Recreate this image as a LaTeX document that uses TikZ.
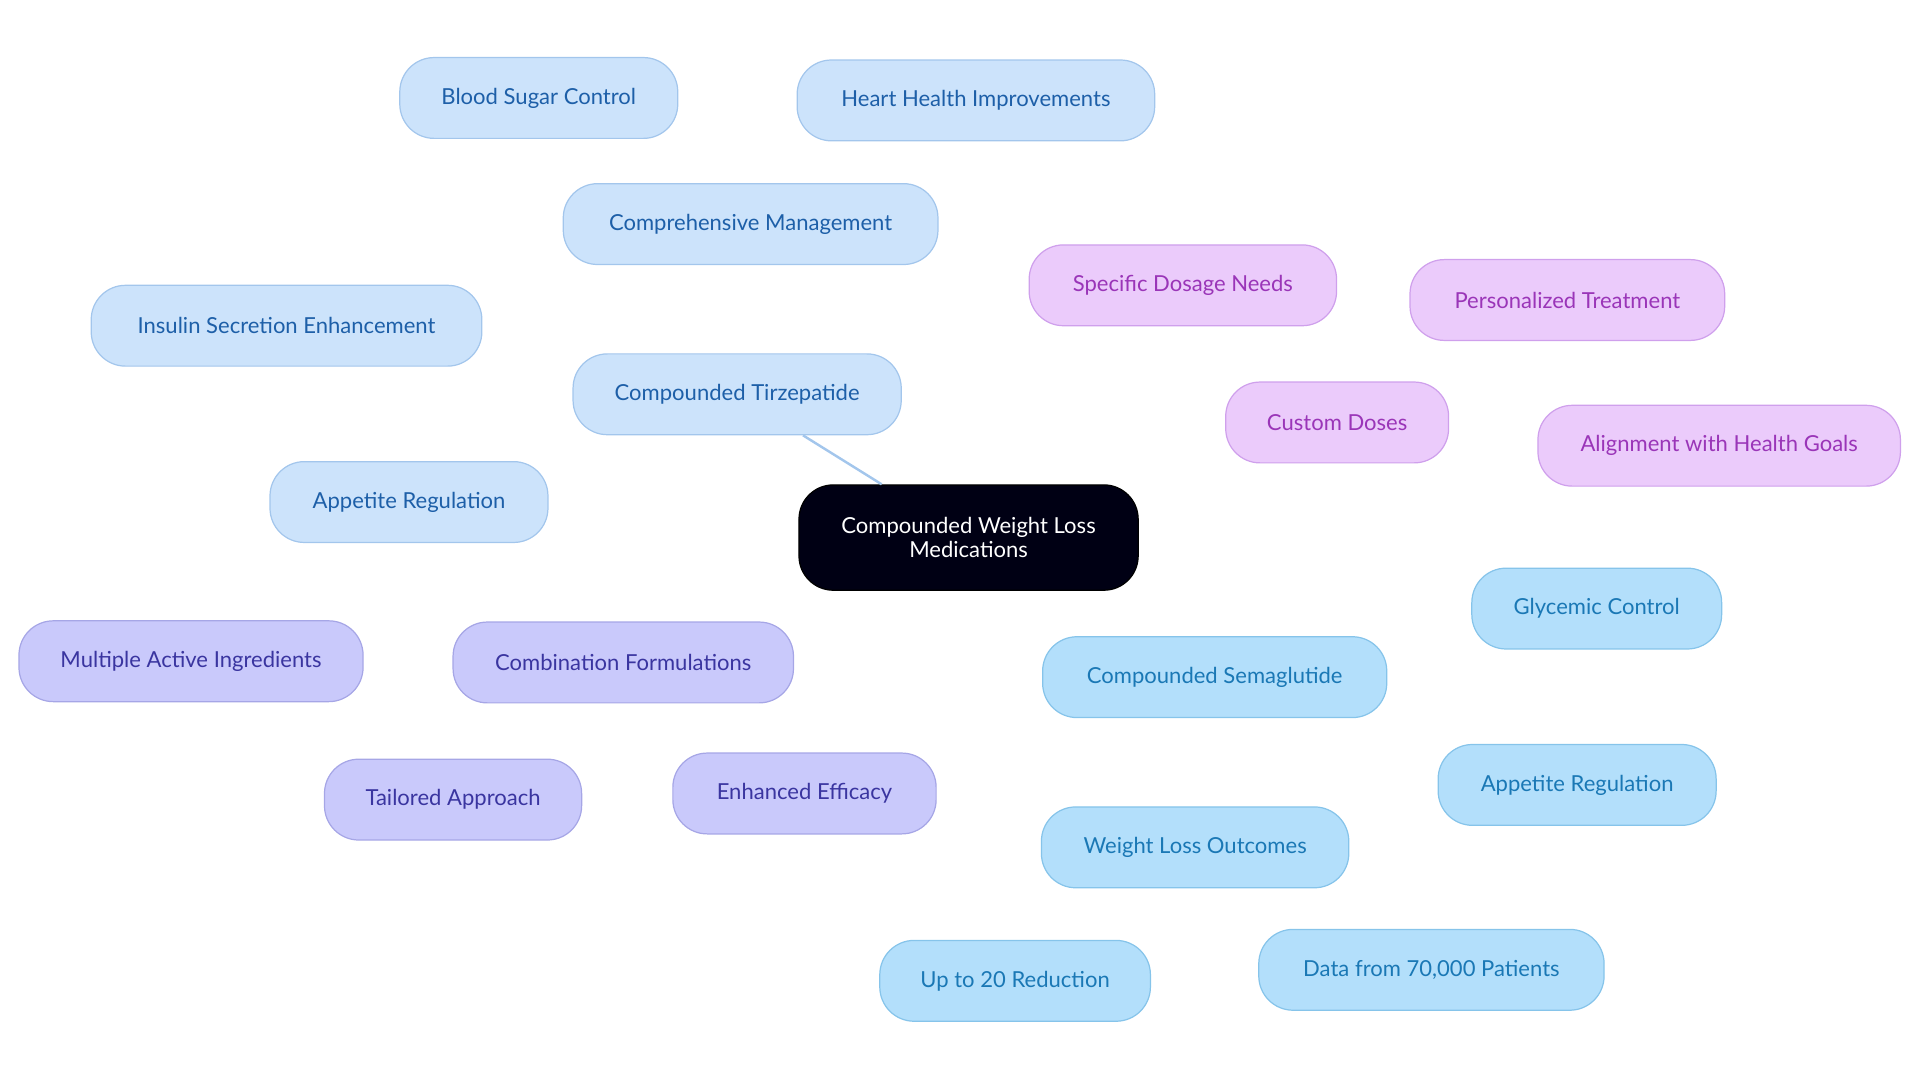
\documentclass[tikz,border=0pt]{standalone}
\usepackage{fontspec}
\setmainfont{Lato}
\begin{document}
\begin{tikzpicture}[x=1pt,y=-1pt,
 base/.style={draw,rounded corners=28pt,minimum height=66pt,line width=1pt,font=\fontsize{18}{21}\selectfont,inner sep=0pt},
 bl/.style={base,fill=cB,draw=cBd,text=cBt},
 pu/.style={base,fill=cP,draw=cPd,text=cPt},
 lv/.style={base,fill=cL,draw=cLd,text=cLt},
 sk/.style={base,fill=cS,draw=cSd,text=cSt},
 eb/.style={draw=cBd,line width=2pt},
 ep/.style={draw=cPd,line width=2pt},
 el/.style={draw=cLd,line width=2pt},
 es/.style={draw=cSd,line width=2pt}]
\definecolor{cB}{HTML}{CCE3FB}\definecolor{cBd}{HTML}{A3C6EC}\definecolor{cBt}{HTML}{1D5FA8}
\definecolor{cP}{HTML}{EBCBFB}\definecolor{cPd}{HTML}{CFA0EC}\definecolor{cPt}{HTML}{9A35B8}
\definecolor{cL}{HTML}{C9C9FB}\definecolor{cLd}{HTML}{A6A6E6}\definecolor{cLt}{HTML}{3A35A0}
\definecolor{cS}{HTML}{B3DFFB}\definecolor{cSd}{HTML}{86C4EA}\definecolor{cSt}{HTML}{1A78B5}
\useasboundingbox (0,0) rectangle (1568,884);
\node[base,fill=black!92!blue,draw=black,text=white,minimum width=277pt,minimum height=86pt,align=center,font=\fontsize{18}{20}\selectfont] (root) at (791,439) {Compounded Weight Loss\\Medications};
\node[bl,minimum width=306pt] (cm) at (613,183) {Comprehensive Management};
\node[bl,minimum width=227pt] (bsc) at (440,80) {Blood Sugar Control};
\node[bl,minimum width=292pt] (hh) at (797,82) {Heart Health Improvements};
\node[bl,minimum width=268pt] (ct) at (602,322) {Compounded Tirzepatide};
\node[bl,minimum width=319pt] (ins) at (234,266) {Insulin Secretion Enhancement};
\node[bl,minimum width=227pt] (ar1) at (334,410) {Appetite Regulation};
\node[pu,minimum width=182pt] (cd) at (1092,345) {Custom Doses};
\node[pu,minimum width=251pt] (sdn) at (966,233) {Specific Dosage Needs};
\node[pu,minimum width=257pt] (pt) at (1280,245) {Personalized Treatment};
\node[pu,minimum width=296pt] (ahg) at (1404,364) {Alignment with Health Goals};
\node[lv,minimum width=278pt] (cf) at (509,541) {Combination Formulations};
\node[lv,minimum width=281pt] (mai) at (156,540) {Multiple Active Ingredients};
\node[lv,minimum width=210pt] (ta) at (370,653) {Tailored Approach};
\node[lv,minimum width=215pt] (ee) at (657,648) {Enhanced Efficacy};
\node[sk,minimum width=281pt] (cs) at (992,553) {Compounded Semaglutide};
\node[sk,minimum width=204pt] (gc) at (1304,497) {Glycemic Control};
\node[sk,minimum width=227pt] (ar2) at (1288,641) {Appetite Regulation};
\node[sk,minimum width=251pt] (wlo) at (976,692) {Weight Loss Outcomes};
\node[sk,minimum width=221pt] (up) at (829,801) {Up to 20 Reduction};
\node[sk,minimum width=282pt] (dp) at (1169,792) {Data from 70,000 Patients};
\begin{scope}[on background layer/.style={}]
\end{scope}
\draw[eb] (root.north west)++(68,0) -- (ct);
\end{tikzpicture}
\end{document}
